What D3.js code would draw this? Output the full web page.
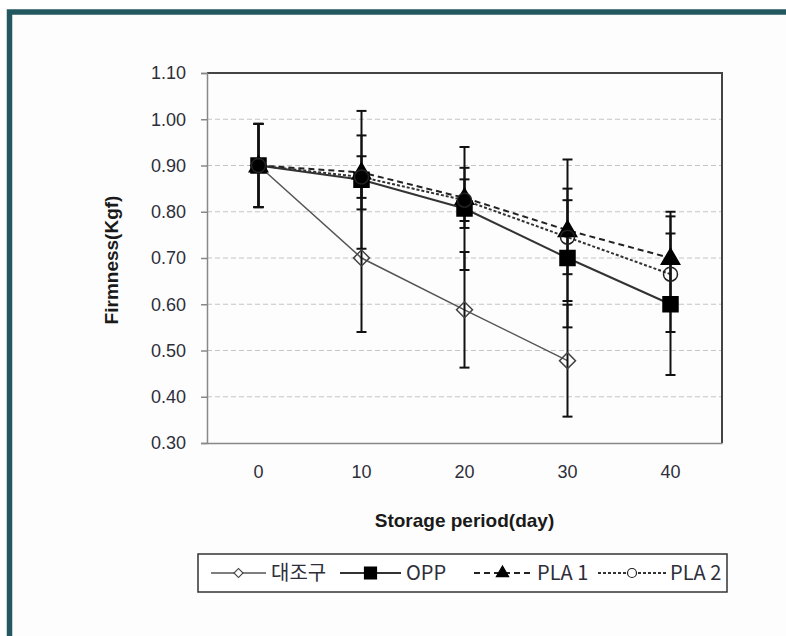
<!DOCTYPE html>
<html>
<head>
<meta charset="utf-8">
<script src="https://cdn.jsdelivr.net/npm/d3@7"></script>
<style>
  body { margin: 0; background: #fff; }
  svg { display: block; }
</style>
</head>
<body>
<div id="chart-area"></div>
<script>
// storage period (day) and firmness (Kgf) per treatment
const days = [0, 10, 20, 30, 40];
const controlVals = [0.90, 0.70, 0.588, 0.478, null];
const controlErr = [0.09, 0.16, 0.125, 0.121, null];
const oppVals = [0.90, 0.869, 0.807, 0.70, 0.60];
const oppErr = [0.09, 0.149, 0.133, 0.15, 0.153];
const pla1Vals = [0.90, 0.885, 0.83, 0.76, 0.70];
const pla1Err = [0.09, 0.08, 0.065, 0.153, 0.10];
const pla2Vals = [0.90, 0.875, 0.825, 0.745, 0.665];
const pla2Err = [0.09, 0.045, 0.045, 0.08, 0.125];
const yTicks = [0.30, 0.40, 0.50, 0.60, 0.70, 0.80, 0.90, 1.00, 1.10];
const seriesNames = ['대조구', 'OPP', 'PLA 1', 'PLA 2'];

const W = 786, H = 636;
const plot = { left: 207, right: 722, top: 73, bottom: 443 };
const latin = 'Liberation Sans, Arial, sans-serif';

const series = [
  { name: seriesNames[0], vals: controlVals, err: controlErr, symbol: 'diamond', fill: 'none', stroke: '#444', lineColor: '#555', dash: null, lw: 1.5 },
  { name: seriesNames[1], vals: oppVals, err: oppErr, symbol: 'square', fill: '#000', stroke: '#000', lineColor: '#333', dash: null, lw: 2 },
  { name: seriesNames[2], vals: pla1Vals, err: pla1Err, symbol: 'triangle', fill: '#000', stroke: '#000', lineColor: '#222', dash: '6,4', lw: 2 },
  { name: seriesNames[3], vals: pla2Vals, err: pla2Err, symbol: 'circle', fill: 'none', stroke: '#222', lineColor: '#333', dash: '3,2', lw: 2 }
];

const svg = d3.select('#chart-area').append('svg')
  .attr('width', W)
  .attr('height', H);

// outer teal frame
svg.append('rect').attr('width', W).attr('height', H).attr('fill', '#fff');
svg.append('rect')
  .attr('x', 9.5).attr('y', 12)
  .attr('width', W + 20).attr('height', H + 20)
  .attr('fill', '#fdfdfd')
  .attr('stroke', '#245860')
  .attr('stroke-width', 5.5);

const x = d3.scaleBand()
  .domain(days)
  .range([plot.left, plot.right]);
const cx = d => x(d) + x.bandwidth() / 2;

const y = d3.scaleLinear()
  .domain([0.3, 1.1])
  .range([plot.bottom, plot.top]);

// grid
svg.append('g')
  .selectAll('line')
  .data(yTicks.filter(t => t > 0.31 && t < 1.09))
  .join('line')
  .attr('x1', plot.left).attr('x2', plot.right)
  .attr('y1', d => y(d)).attr('y2', d => y(d))
  .attr('stroke', '#c4c4c4')
  .attr('stroke-width', 1)
  .attr('stroke-dasharray', '5,3');

// plot frame (top / right)
svg.append('path')
  .attr('d', `M${plot.left},${plot.top}H${plot.right}V${plot.bottom}`)
  .attr('fill', 'none')
  .attr('stroke', '#444')
  .attr('stroke-width', 2);

// Y axis
const yAxis = d3.axisLeft(y)
  .tickValues(yTicks)
  .tickSize(6)
  .tickPadding(15)
  .tickFormat(d3.format('.2f'));
const gy = svg.append('g')
  .attr('transform', `translate(${plot.left},0)`)
  .call(yAxis);
gy.select('.domain').attr('stroke', '#888').attr('stroke-width', 1.5);
gy.selectAll('.tick line').attr('stroke', '#888').attr('stroke-width', 1.5);
gy.selectAll('.tick text')
  .attr('font-family', latin)
  .attr('font-size', 18)
  .attr('fill', '#2e2e3a');

// X axis
const xAxis = d3.axisBottom(x).tickSize(0).tickPadding(22);
const gx = svg.append('g')
  .attr('transform', `translate(0,${plot.bottom})`)
  .call(xAxis);
gx.select('.domain').attr('stroke', '#888').attr('stroke-width', 1.5);
gx.selectAll('.tick text')
  .attr('font-family', latin)
  .attr('font-size', 18)
  .attr('fill', '#2e2e3a');

// axis titles
svg.append('text')
  .attr('transform', `translate(118,${(plot.top + plot.bottom) / 2 + 2}) rotate(-90)`)
  .attr('text-anchor', 'middle')
  .attr('font-family', latin)
  .attr('font-weight', 'bold')
  .attr('font-size', 19)
  .attr('fill', '#1a1a1a')
  .text('Firmness(Kgf)');

svg.append('text')
  .attr('x', (plot.left + plot.right) / 2)
  .attr('y', 527)
  .attr('text-anchor', 'middle')
  .attr('font-family', latin)
  .attr('font-weight', 'bold')
  .attr('font-size', 19)
  .attr('fill', '#1a1a1a')
  .text('Storage period(day)');

function symbolPath(type, s) {
  if (type === 'diamond') return d3.symbol(d3.symbolSquare, s * s * 2)();
  if (type === 'square') return d3.symbol(d3.symbolSquare, s * s * 4)();
  if (type === 'triangle') return d3.symbol(d3.symbolTriangle, s * s * 2.6)();
  return d3.symbol(d3.symbolCircle, Math.PI * s * s)();
}

const line = d3.line()
  .defined(d => d.v != null)
  .x(d => cx(d.day))
  .y(d => y(d.v));

const pts = s => days.map((day, i) => ({ day, v: s.vals[i], e: s.err[i] })).filter(d => d.v != null);

// series lines
series.forEach(s => {
  svg.append('path')
    .datum(days.map((day, i) => ({ day, v: s.vals[i] })))
    .attr('d', line)
    .attr('fill', 'none')
    .attr('stroke', s.lineColor)
    .attr('stroke-width', s.lw)
    .attr('stroke-dasharray', s.dash);
});

// error bars
series.forEach(s => {
  const g = svg.append('g').attr('stroke', '#111').attr('stroke-width', 2);
  const d = pts(s);
  g.selectAll('line.bar').data(d).join('line')
    .attr('x1', p => cx(p.day)).attr('x2', p => cx(p.day))
    .attr('y1', p => y(p.v + p.e)).attr('y2', p => y(p.v - p.e));
  [1, -1].forEach(sign => {
    g.selectAll(null).data(d).join('line')
      .attr('x1', p => cx(p.day) - 5).attr('x2', p => cx(p.day) + 5)
      .attr('y1', p => y(p.v + sign * p.e)).attr('y2', p => y(p.v + sign * p.e));
  });
});

// markers
const markerSize = { diamond: 8, square: 7.5, triangle: 7.5, circle: 7 };
series.forEach(s => {
  svg.append('g').selectAll('path').data(pts(s)).join('path')
    .attr('d', symbolPath(s.symbol, markerSize[s.symbol]))
    .attr('transform', p => `translate(${cx(p.day)},${y(p.v) + (s.symbol === 'triangle' ? 1 : 0)})` + (s.symbol === 'diamond' ? ' rotate(45)' : ''))
    .attr('fill', s.fill)
    .attr('stroke', s.stroke)
    .attr('stroke-width', 1.5);
});

// legend
const legend = svg.append('g');
legend.append('rect')
  .attr('x', 198).attr('y', 554)
  .attr('width', 529).attr('height', 38)
  .attr('fill', '#fff')
  .attr('stroke', '#333')
  .attr('stroke-width', 1.5);

const legendItems = [
  { x0: 211, x1: 266, tx: 271 },
  { x0: 340, x1: 401, tx: 406 },
  { x0: 474, x1: 531, tx: 537 },
  { x0: 598, x1: 666, tx: 670 }
];
const legendMarker = { diamond: 4.5, square: 6, triangle: 5, circle: 4.5 };
const ly = 573;
series.forEach((s, i) => {
  const it = legendItems[i];
  legend.append('line')
    .attr('x1', it.x0).attr('x2', it.x1)
    .attr('y1', ly).attr('y2', ly)
    .attr('stroke', s.lineColor)
    .attr('stroke-width', s.lw)
    .attr('stroke-dasharray', s.dash);
  legend.append('path')
    .attr('d', symbolPath(s.symbol, legendMarker[s.symbol]))
    .attr('transform', `translate(${(it.x0 + it.x1) / 2},${ly})` + (s.symbol === 'diamond' ? ' rotate(45)' : ''))
    .attr('fill', s.fill === 'none' ? '#fff' : s.fill)
    .attr('stroke', s.stroke)
    .attr('stroke-width', 1.2);
  legend.append('text')
    .attr('x', it.tx).attr('y', ly + 7)
    .attr('font-family', 'Noto Sans CJK KR, Noto Sans, sans-serif')
    .attr('font-size', 20)
    .attr('fill', '#2e2e3a')
    .text(s.name);
});
</script>
</body>
</html>
